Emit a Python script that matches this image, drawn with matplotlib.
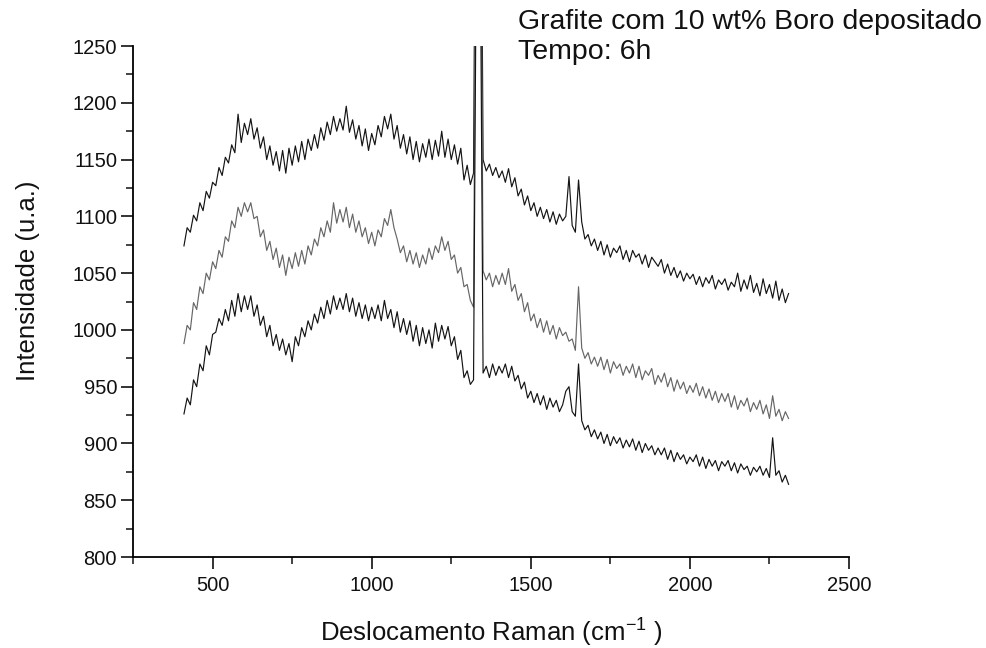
import numpy as np
import matplotlib
matplotlib.use('Agg')
import matplotlib.pyplot as plt
from matplotlib.ticker import MultipleLocator

plt.rcParams['font.family'] = ['Liberation Sans', 'DejaVu Sans']

# Raman shift range of the measured spectra (cm-1), one value every 10 cm-1
shift_start = 410
shift_end = 2310

# upper spectrum
sup = [1074, 1090, 1086, 1101, 1096, 1112, 1105, 1122, 1116, 1130,
       1127, 1143, 1136, 1152, 1147, 1163, 1156, 1190, 1165, 1182,
       1172, 1186, 1168, 1178, 1160, 1170, 1150, 1162, 1145, 1157,
       1140, 1158, 1138, 1160, 1145, 1162, 1148, 1166, 1150, 1168,
       1158, 1172, 1160, 1178, 1167, 1183, 1172, 1188, 1175, 1186,
       1176, 1197, 1174, 1185, 1168, 1180, 1162, 1177, 1158, 1173,
       1163, 1180, 1170, 1188, 1177, 1190, 1168, 1180, 1160, 1172,
       1155, 1170, 1150, 1166, 1148, 1164, 1152, 1168, 1150, 1167,
       1153, 1175, 1152, 1168, 1150, 1163, 1146, 1160, 1132, 1145,
       1128, 1138, 1600, 1600, 1150, 1140, 1146, 1136, 1143, 1134,
       1140, 1130, 1142, 1126, 1134, 1118, 1124, 1110, 1118, 1105,
       1112, 1100, 1108, 1098, 1106, 1095, 1104, 1093, 1102, 1096,
       1100, 1135, 1092, 1086, 1132, 1095, 1080, 1084, 1074, 1080,
       1070, 1078, 1066, 1075, 1064, 1072, 1068, 1074, 1062, 1070,
       1060, 1070, 1064, 1067, 1058, 1066, 1055, 1064, 1060, 1056,
       1062, 1050, 1058, 1048, 1055, 1046, 1052, 1043, 1050, 1045,
       1049, 1040, 1047, 1038, 1046, 1041, 1048, 1036, 1044, 1040,
       1045, 1035, 1042, 1038, 1050, 1034, 1044, 1036, 1048, 1033,
       1041, 1030, 1045, 1032, 1040, 1028, 1043, 1026, 1036, 1024,
       1032]

# middle spectrum
meio = [988, 1004, 1000, 1024, 1018, 1038, 1032, 1050, 1044, 1060,
        1054, 1070, 1064, 1082, 1078, 1096, 1090, 1108, 1100, 1112,
        1104, 1112, 1098, 1100, 1082, 1088, 1070, 1078, 1062, 1072,
        1055, 1066, 1048, 1064, 1054, 1068, 1056, 1070, 1058, 1074,
        1066, 1080, 1074, 1090, 1082, 1096, 1086, 1112, 1094, 1106,
        1095, 1108, 1090, 1102, 1086, 1096, 1082, 1090, 1076, 1086,
        1074, 1088, 1082, 1098, 1092, 1106, 1090, 1080, 1068, 1074,
        1060, 1070, 1058, 1068, 1055, 1066, 1058, 1072, 1062, 1074,
        1068, 1082, 1070, 1078, 1062, 1066, 1050, 1055, 1038, 1040,
        1026, 1020, 1500, 1500, 1052, 1044, 1050, 1038, 1048, 1040,
        1050, 1040, 1054, 1034, 1040, 1026, 1032, 1016, 1024, 1008,
        1014, 1002, 1010, 998, 1008, 996, 1004, 992, 1002, 995,
        998, 990, 992, 982, 1038, 984, 975, 980, 970, 976,
        968, 976, 965, 974, 962, 972, 966, 970, 960, 968,
        962, 970, 958, 968, 956, 964, 960, 966, 952, 960,
        954, 962, 950, 958, 946, 956, 948, 954, 944, 951,
        945, 953, 942, 950, 940, 948, 938, 946, 936, 944,
        937, 944, 932, 942, 930, 938, 933, 940, 928, 936,
        930, 938, 926, 934, 922, 942, 924, 930, 920, 928,
        922]

# lower spectrum
inf = [926, 940, 934, 956, 950, 970, 964, 986, 978, 996,
       998, 1010, 1004, 1018, 1008, 1026, 1012, 1032, 1016, 1030,
       1018, 1030, 1012, 1022, 1004, 1012, 994, 1004, 986, 996,
       982, 992, 978, 988, 972, 994, 986, 1002, 994, 1008,
       1000, 1014, 1006, 1020, 1010, 1026, 1014, 1030, 1018, 1028,
       1018, 1032, 1016, 1028, 1012, 1024, 1010, 1022, 1008, 1020,
       1010, 1022, 1008, 1026, 1010, 1018, 1002, 1016, 998, 1010,
       996, 1008, 990, 1004, 986, 1002, 988, 1000, 984, 1006,
       990, 1004, 992, 1003, 986, 994, 974, 982, 958, 964,
       952, 956, 1400, 1400, 962, 968, 958, 970, 960, 968,
       962, 970, 958, 968, 955, 960, 948, 954, 940, 946,
       936, 944, 934, 942, 930, 940, 932, 938, 928, 934,
       946, 950, 928, 924, 970, 920, 912, 916, 906, 912,
       904, 910, 900, 908, 898, 906, 900, 905, 896, 903,
       897, 904, 894, 902, 892, 900, 894, 898, 890, 896,
       890, 896, 886, 894, 884, 892, 886, 890, 882, 888,
       884, 890, 880, 888, 878, 886, 880, 885, 876, 884,
       880, 885, 876, 883, 874, 882, 877, 880, 872, 879,
       875, 880, 872, 878, 870, 905, 872, 876, 866, 872,
       864]

fig = plt.figure(figsize=(9.87, 6.48), dpi=100)
ax = fig.add_axes([0.1348, 0.1404, 0.7254, 0.7886])

for y, cor in [(sup, '#141414'), (meio, '#666666'), (inf, '#141414')]:
    x = np.linspace(shift_start, shift_end, len(y))
    ax.plot(x, y, color=cor, lw=0.85)

ax.set_xlim(250, 2500)
ax.set_ylim(800, 1250)

ax.spines['top'].set_visible(False)
ax.spines['right'].set_visible(False)
ax.spines['left'].set_linewidth(1.3)
ax.spines['bottom'].set_linewidth(1.3)

ax.xaxis.set_major_locator(MultipleLocator(500))
ax.xaxis.set_minor_locator(MultipleLocator(250))
ax.yaxis.set_major_locator(MultipleLocator(50))
ax.yaxis.set_minor_locator(MultipleLocator(25))
ax.tick_params(which='major', direction='out', length=8.5, width=1.2,
               labelsize=14.5, color='#111111', labelcolor='#111111')
ax.tick_params(which='minor', direction='out', length=5, width=1.1, color='#111111')
ax.tick_params(axis='x', which='major', pad=5)
ax.tick_params(axis='y', which='major', pad=3)

ax.set_xlabel('Deslocamento Raman (cm$^{\\mathregular{-1}}$ )', fontsize=18.5, color='#111111')
ax.set_ylabel('Intensidade (u.a.)', fontsize=18.5, color='#111111')
ax.xaxis.set_label_coords(0.5, -0.113)
ax.yaxis.set_label_coords(-0.13, 0.54)

fig.text(518 / 987, 1 - 22 / 648, 'Grafite com 10 wt% Boro depositado',
         fontsize=20.5, color='#111111', va='center', ha='left')
fig.text(518 / 987, 1 - 52 / 648, 'Tempo: 6h',
         fontsize=20.5, color='#111111', va='center', ha='left')

fig.savefig('out.png', dpi=100)
